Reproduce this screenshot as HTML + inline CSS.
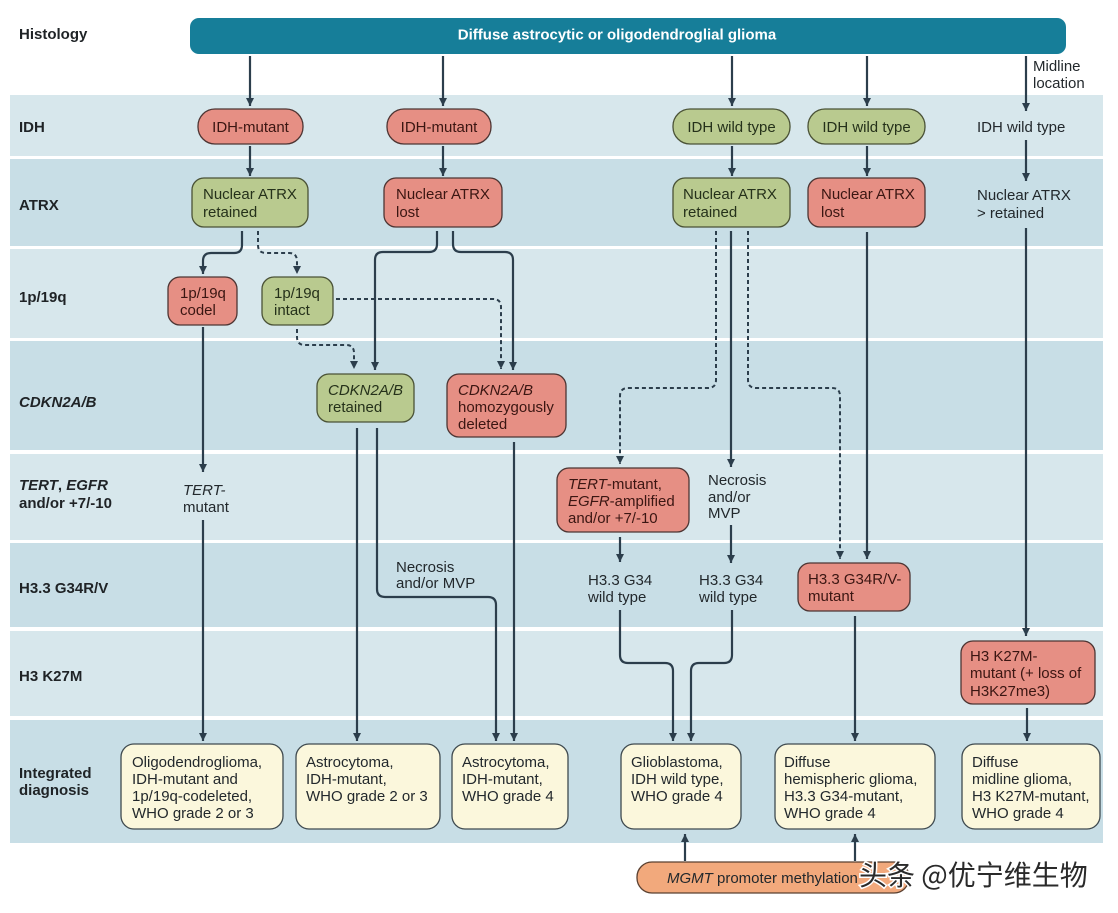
<!DOCTYPE html>
<html><head><meta charset="utf-8"><style>
html,body{margin:0;padding:0;background:#fff;}
svg{display:block;}
text{font-family:"Liberation Sans","Noto Sans CJK SC",sans-serif;}
.lb{font-weight:bold;font-size:15px;fill:#1f2326;}
.t{font-size:15px;}
.r{fill:#3b1612;}
.g{fill:#25311a;}
.k{fill:#22282c;}
.ln{fill:none;stroke:#2c3e4c;stroke-width:2.2;}
.ds{fill:none;stroke:#2c3e4c;stroke-width:2;stroke-dasharray:4 3;}
.red{fill:#e68f84;stroke:#4d3533;stroke-width:1.3;}
.grn{fill:#b9ca8f;stroke:#4a5236;stroke-width:1.3;}
.crm{fill:#fbf7dc;stroke:#3f4a4f;stroke-width:1.3;}
</style></head><body>
<svg width="1118" height="913" viewBox="0 0 1118 913" xmlns="http://www.w3.org/2000/svg">
<defs>
<marker id="a" viewBox="0 0 10 10" refX="10" refY="5" markerWidth="8" markerHeight="9" orient="auto" markerUnits="userSpaceOnUse"><path d="M0,0 L10,5 L0,10 z" fill="#2c3e4c"/></marker>
</defs>
<!-- bands -->
<rect x="10" y="95" width="1093" height="61" fill="#d7e7ec"/>
<rect x="10" y="159" width="1093" height="87" fill="#c8dee6"/>
<rect x="10" y="249" width="1093" height="89" fill="#d7e7ec"/>
<rect x="10" y="341" width="1093" height="109" fill="#c8dee6"/>
<rect x="10" y="454" width="1093" height="86" fill="#d7e7ec"/>
<rect x="10" y="543" width="1093" height="84" fill="#c8dee6"/>
<rect x="10" y="631" width="1093" height="85" fill="#d7e7ec"/>
<rect x="10" y="720" width="1093" height="123" fill="#c8dee6"/>

<!-- banner -->
<rect x="190" y="18" width="876" height="36" rx="9" fill="#167e99"/>
<text x="617" y="39.5" text-anchor="middle" font-weight="bold" font-size="15" fill="#fff">Diffuse astrocytic or oligodendroglial glioma</text>

<!-- row labels -->
<text class="lb" x="19" y="39">Histology</text>
<text class="lb" x="19" y="132">IDH</text>
<text class="lb" x="19" y="210">ATRX</text>
<text class="lb" x="19" y="302">1p/19q</text>
<text class="lb" x="19" y="407" font-style="italic">CDKN2A/B</text>
<text class="lb" x="19" y="490"><tspan font-style="italic">TERT</tspan>, <tspan font-style="italic">EGFR</tspan></text>
<text class="lb" x="19" y="508">and/or +7/-10</text>
<text class="lb" x="19" y="593">H3.3 G34R/V</text>
<text class="lb" x="19" y="681">H3 K27M</text>
<text class="lb" x="19" y="778">Integrated</text>
<text class="lb" x="19" y="795">diagnosis</text>

<!-- connectors -->
<g marker-end="url(#a)">
<path class="ln" d="M250,56 V106"/>
<path class="ln" d="M250,146 V176"/>
<path class="ln" d="M242,231 V245 Q242,253 234,253 H211 Q203,253 203,261 V274"/>
<path class="ds" d="M258,231 V245 Q258,253 266,253 H289 Q297,253 297,261 V274"/>
<path class="ln" d="M203,327 V472"/>
<path class="ln" d="M203,520 V741"/>
<path class="ds" d="M336,299 H493 Q501,299 501,307 V369"/>
<path class="ds" d="M297,329 V337 Q297,345 305,345 H346 Q354,345 354,353 V369"/>

<path class="ln" d="M443,56 V106"/>
<path class="ln" d="M443,146 V176"/>
<path class="ln" d="M437,231 V244 Q437,252 429,252 H383 Q375,252 375,260 V370"/>
<path class="ln" d="M453,231 V244 Q453,252 461,252 H505 Q513,252 513,260 V370"/>
<path class="ln" d="M357,428 V741"/>
<path class="ln" d="M377,428 V589 Q377,597 385,597 H488 Q496,597 496,605 V741"/>
<path class="ln" d="M514,442 V741"/>

<path class="ln" d="M732,56 V106"/>
<path class="ln" d="M732,146 V176"/>
<path class="ds" d="M716,231 V380 Q716,388 708,388 H628 Q620,388 620,396 V464"/>
<path class="ln" d="M731,231 V467"/>
<path class="ln" d="M731,525 V563"/>
<path class="ds" d="M748,231 V380 Q748,388 756,388 H832 Q840,388 840,396 V559"/>
<path class="ln" d="M620,537 V562"/>
<path class="ln" d="M620,610 V655 Q620,663 628,663 H665 Q673,663 673,671 V741"/>
<path class="ln" d="M732,610 V655 Q732,663 724,663 H699 Q691,663 691,671 V741"/>

<path class="ln" d="M867,56 V106"/>
<path class="ln" d="M867,146 V176"/>
<path class="ln" d="M867,232 V559"/>
<path class="ln" d="M855,616 V741"/>

<path class="ln" d="M1026,56 V111"/>
<path class="ln" d="M1026,140 V181"/>
<path class="ln" d="M1026,228 V636"/>
<path class="ln" d="M1027,708 V741"/>

<path class="ln" d="M685,861 V834"/>
<path class="ln" d="M855,861 V834"/>
</g>

<!-- IDH row -->
<rect class="red" x="198" y="109" width="105" height="35" rx="17"/>
<text class="t r" x="250.5" y="132" text-anchor="middle">IDH-mutant</text>
<rect class="red" x="387" y="109" width="104" height="35" rx="17"/>
<text class="t r" x="439" y="132" text-anchor="middle">IDH-mutant</text>
<rect class="grn" x="673" y="109" width="117" height="35" rx="17"/>
<text class="t g" x="731.5" y="132" text-anchor="middle">IDH wild type</text>
<rect class="grn" x="808" y="109" width="117" height="35" rx="17"/>
<text class="t g" x="866.5" y="132" text-anchor="middle">IDH wild type</text>
<text class="t k" x="977" y="132">IDH wild type</text>
<text class="t k" x="1033" y="71">Midline</text>
<text class="t k" x="1033" y="88">location</text>

<!-- ATRX row -->
<rect class="grn" x="192" y="178" width="116" height="49" rx="12"/>
<text class="t g" x="203" y="199">Nuclear ATRX</text>
<text class="t g" x="203" y="217">retained</text>
<rect class="red" x="384" y="178" width="118" height="49" rx="12"/>
<text class="t r" x="396" y="199">Nuclear ATRX</text>
<text class="t r" x="396" y="217">lost</text>
<rect class="grn" x="673" y="178" width="117" height="49" rx="12"/>
<text class="t g" x="683" y="199">Nuclear ATRX</text>
<text class="t g" x="683" y="217">retained</text>
<rect class="red" x="808" y="178" width="117" height="49" rx="12"/>
<text class="t r" x="821" y="199">Nuclear ATRX</text>
<text class="t r" x="821" y="217">lost</text>
<text class="t k" x="977" y="200">Nuclear ATRX</text>
<text class="t k" x="977" y="218">&gt; retained</text>

<!-- 1p/19q row -->
<rect class="red" x="168" y="277" width="69" height="48" rx="12"/>
<text class="t r" x="180" y="298">1p/19q</text>
<text class="t r" x="180" y="315">codel</text>
<rect class="grn" x="262" y="277" width="71" height="48" rx="12"/>
<text class="t g" x="274" y="298">1p/19q</text>
<text class="t g" x="274" y="315">intact</text>

<!-- CDKN row -->
<rect class="grn" x="317" y="374" width="97" height="48" rx="12"/>
<text class="t g" x="328" y="395" font-style="italic">CDKN2A/B</text>
<text class="t g" x="328" y="412">retained</text>
<rect class="red" x="447" y="374" width="119" height="63" rx="12"/>
<text class="t r" x="458" y="395" font-style="italic">CDKN2A/B</text>
<text class="t r" x="458" y="412">homozygously</text>
<text class="t r" x="458" y="429">deleted</text>

<!-- TERT row -->
<text class="t k" x="183" y="495" font-style="italic">TERT-</text>
<text class="t k" x="183" y="512">mutant</text>
<rect class="red" x="557" y="468" width="132" height="64" rx="12"/>
<text class="t r" x="568" y="489"><tspan font-style="italic">TERT</tspan>-mutant,</text>
<text class="t r" x="568" y="506"><tspan font-style="italic">EGFR</tspan>-amplified</text>
<text class="t r" x="568" y="523">and/or +7/-10</text>
<text class="t k" x="708" y="485">Necrosis</text>
<text class="t k" x="708" y="502">and/or</text>
<text class="t k" x="708" y="518">MVP</text>

<!-- H3.3 row -->
<text class="t k" x="396" y="572">Necrosis</text>
<text class="t k" x="396" y="588">and/or MVP</text>
<text class="t k" x="588" y="585">H3.3 G34</text>
<text class="t k" x="588" y="602">wild type</text>
<text class="t k" x="699" y="585">H3.3 G34</text>
<text class="t k" x="699" y="602">wild type</text>
<rect class="red" x="798" y="563" width="112" height="48" rx="12"/>
<text class="t r" x="808" y="584">H3.3 G34R/V-</text>
<text class="t r" x="808" y="601">mutant</text>

<!-- K27M -->
<rect class="red" x="961" y="641" width="134" height="63" rx="12"/>
<text class="t r" x="970" y="661">H3 K27M-</text>
<text class="t r" x="970" y="678">mutant (+ loss of</text>
<text class="t r" x="970" y="696">H3K27me3)</text>

<!-- integrated diagnosis -->
<rect class="crm" x="121" y="744" width="162" height="85" rx="13"/>
<text class="t k" x="132" y="767">Oligodendroglioma,</text>
<text class="t k" x="132" y="784">IDH-mutant and</text>
<text class="t k" x="132" y="801">1p/19q-codeleted,</text>
<text class="t k" x="132" y="818">WHO grade 2 or 3</text>

<rect class="crm" x="296" y="744" width="144" height="85" rx="13"/>
<text class="t k" x="306" y="767">Astrocytoma,</text>
<text class="t k" x="306" y="784">IDH-mutant,</text>
<text class="t k" x="306" y="801">WHO grade 2 or 3</text>

<rect class="crm" x="452" y="744" width="116" height="85" rx="13"/>
<text class="t k" x="462" y="767">Astrocytoma,</text>
<text class="t k" x="462" y="784">IDH-mutant,</text>
<text class="t k" x="462" y="801">WHO grade 4</text>

<rect class="crm" x="621" y="744" width="120" height="85" rx="13"/>
<text class="t k" x="631" y="767">Glioblastoma,</text>
<text class="t k" x="631" y="784">IDH wild type,</text>
<text class="t k" x="631" y="801">WHO grade 4</text>

<rect class="crm" x="775" y="744" width="160" height="85" rx="13"/>
<text class="t k" x="784" y="767">Diffuse</text>
<text class="t k" x="784" y="784">hemispheric glioma,</text>
<text class="t k" x="784" y="801">H3.3 G34-mutant,</text>
<text class="t k" x="784" y="818">WHO grade 4</text>

<rect class="crm" x="962" y="744" width="138" height="85" rx="13"/>
<text class="t k" x="972" y="767">Diffuse</text>
<text class="t k" x="972" y="784">midline glioma,</text>
<text class="t k" x="972" y="801">H3 K27M-mutant,</text>
<text class="t k" x="972" y="818">WHO grade 4</text>

<!-- MGMT -->
<rect x="637" y="862" width="272" height="31" rx="15" fill="#f2a97c" stroke="#5a4030" stroke-width="1.3"/>
<text class="t k" x="667" y="883"><tspan font-style="italic">MGMT</tspan> promoter methylation</text>

<!-- watermark -->
<text x="859" y="885" font-size="28" fill="#2a2a2a" stroke="#ffffff" stroke-width="3" paint-order="stroke" style="font-family:'Noto Sans CJK SC','WenQuanYi Zen Hei',sans-serif;">头条 @优宁维生物</text>
</svg>
</body></html>
